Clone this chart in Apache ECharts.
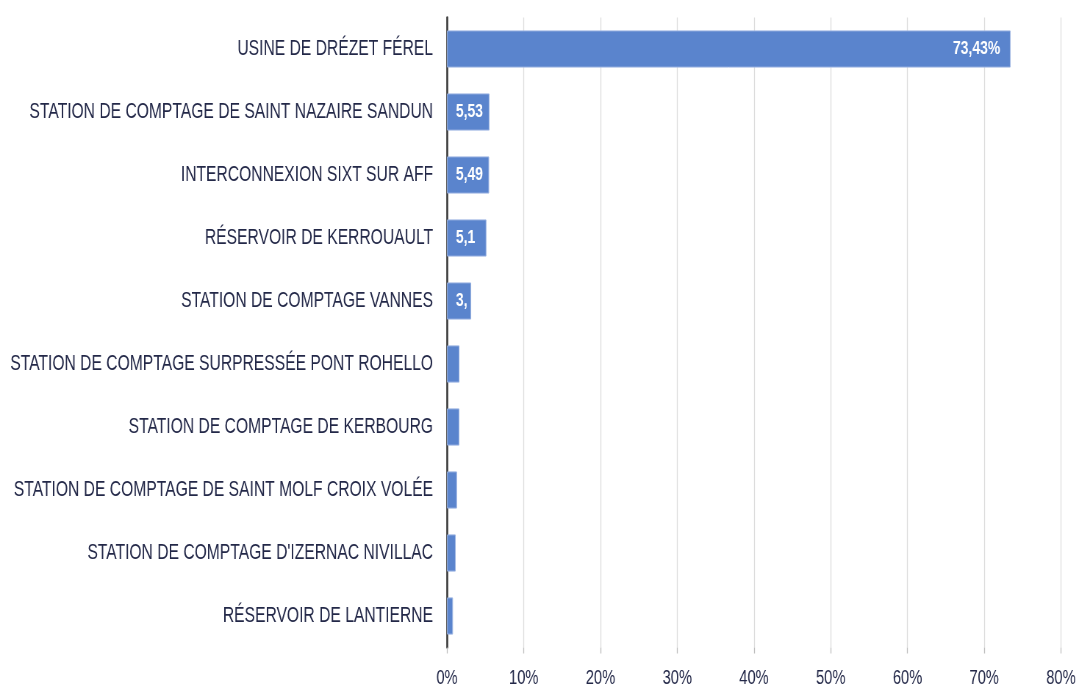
<!DOCTYPE html>
<html>
<head>
<meta charset="utf-8">
<script src="https://cdn.jsdelivr.net/npm/echarts@6/dist/echarts.min.js"></script>
<style>
  html, body { margin: 0; padding: 0; background: #fff; overflow: hidden; }
  /* le graphique d'origine est "tassé" en largeur : on dessine plus large puis on compresse */
  #main { transform: scaleX(0.735); transform-origin: 0 0; }
</style>
</head>
<body>
<div id="main" style="width:1468px;height:688px;"></div>
<script>
// les sites, du plus gros au plus petit
var categories = [
    'USINE DE DRÉZET FÉREL',
    'STATION DE COMPTAGE DE SAINT NAZAIRE SANDUN',
    'INTERCONNEXION SIXT SUR AFF',
    'RÉSERVOIR DE KERROUAULT',
    'STATION DE COMPTAGE VANNES',
    'STATION DE COMPTAGE SURPRESSÉE PONT ROHELLO',
    'STATION DE COMPTAGE DE KERBOURG',
    'STATION DE COMPTAGE DE SAINT MOLF CROIX VOLÉE',
    "STATION DE COMPTAGE D'IZERNAC NIVILLAC",
    'RÉSERVOIR DE LANTIERNE'
];
var parts = [73.43, 5.53, 5.49, 5.13, 3.14, 1.62, 1.60, 1.30, 1.13, 0.78];
var xTicks = [0, 10, 20, 30, 40, 50, 60, 70, 80];

var SX = 0.735; // compression horizontale
var font = '"Liberation Sans", Arial, sans-serif';
var navy = '#232848';

function fmt(v) {
    return v.toFixed(2).replace('.', ',') + '%';
}

var chart = echarts.init(document.getElementById('main'));

var option = {
    animation: false,
    grid: {
        left: 447 / SX, right: 18 / SX, top: 17.5, bottom: 40.5,
        containLabel: false,
        outerBoundsMode: 'none'
    },
    xAxis: {
        type: 'value',
        min: xTicks[0],
        max: xTicks[xTicks.length - 1],
        interval: 10,
        axisLine: { show: false },
        axisTick: { show: true, length: 6, lineStyle: { color: '#bdbdbd', width: 1.3 } },
        splitLine: { show: true, lineStyle: { color: '#dcdcdc', width: 1.3 } },
        axisLabel: {
            margin: 21,
            fontFamily: font,
            fontSize: 20,
            color: navy,
            formatter: function (v) { return v + '%'; }
        }
    },
    yAxis: {
        type: 'category',
        inverse: true,
        data: categories,
        axisLine: { show: true, lineStyle: { color: '#3d3d3d', width: 2.7 } },
        axisTick: { show: false },
        axisLabel: {
            margin: 19,
            fontFamily: font,
            fontSize: 21.3,
            color: navy
        }
    },
    series: [{
        type: 'bar',
        data: parts,
        barCategoryGap: '41%',
        itemStyle: { color: '#5a84cd', borderColor: '#9cb4e2', borderWidth: 1 },
        label: {
            show: true,
            position: 'insideLeft',
            distance: 12,
            fontFamily: font,
            fontSize: 19,
            fontWeight: 'bold',
            color: '#ffffff',
            formatter: function (p) { return fmt(p.value); }
        }
    }]
};
chart.setOption(option);

// étiquettes coupées au bout de la barre (comme dans l'original)
var items = parts.map(function (v, i) {
    var x0 = chart.convertToPixel({ gridIndex: 0 }, [0, i])[0];
    var x1 = chart.convertToPixel({ gridIndex: 0 }, [v, i])[0];
    var w = x1 - x0;
    if (w > 150) {
        return { value: v, label: { position: 'insideRight', distance: 14 } };
    }
    return {
        value: v,
        label: { width: Math.max(w - 10, 0), overflow: 'truncate', ellipsis: '' }
    };
});
chart.setOption({ series: [{ data: items }] });
</script>
</body>
</html>
